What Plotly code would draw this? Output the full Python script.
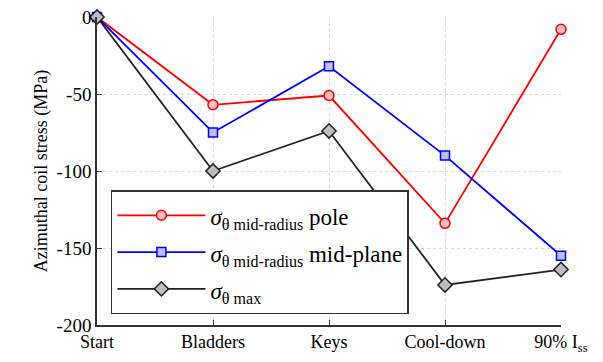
import plotly.graph_objects as go

stages = ["Start", "Bladders", "Keys", "Cool-down", "90% I<sub>ss</sub>"]
pole = [0, -57, -51, -134, -8]
midplane = [0, -75, -32, -90, -155]
smax = [0, -100, -74, -174, -164]
yticks = [-200, -150, -100, -50, 0]
yticklabels = ["-200", "-150", "-100", "-50", "0"]

names = ["<i>σ</i><sub>θ mid-radius</sub> pole",
         "<i>σ</i><sub>θ mid-radius</sub> mid-plane",
         "<i>σ</i><sub>θ max</sub>"]

fig = go.Figure()
x = list(range(len(stages)))
specs = [
    ("#ff0000", "rgba(255,190,190,1)", "circle", 10),
    ("#0000ff", "rgba(190,190,255,1)", "square", 9),
    ("#222222", "rgba(190,190,190,1)", "diamond", 11),
]
for vals, (lc, fc, sym, sz), nm in zip([pole, midplane, smax], specs, names):
    fig.add_trace(go.Scatter(
        x=x, y=vals, mode="lines+markers",
        name='<span style="font-size:23px">' + nm + '</span>',
        line=dict(color=lc, width=1.8),
        marker=dict(symbol=sym, size=sz, color=fc, line=dict(color=lc, width=1.5)),
        cliponaxis=False,
    ))

font = "Liberation Serif"
fig.update_layout(
    width=595, height=354,
    margin=dict(l=89, r=42, t=9, b=37, autoexpand=False),
    paper_bgcolor="white", plot_bgcolor="white",
    font=dict(family=font, size=16, color="black"),
    showlegend=True,
    legend=dict(
        x=0.03, y=0.437, xanchor="left", yanchor="top",
        bgcolor="white", bordercolor="#333333", borderwidth=1.5,
        font=dict(family=font, size=26, color="black"),
        itemwidth=88, tracegroupgap=0,
    ),
    xaxis=dict(
        range=[0, 4], tickmode="array", tickvals=x, ticktext=stages,
        showline=True, linecolor="#333333", linewidth=1.5,
        ticks="inside", ticklen=5, tickcolor="#333333",
        showgrid=True, gridcolor="#d8d8d8", griddash="dot", gridwidth=1,
        zeroline=False, tickfont=dict(family=font, size=18), automargin=False,
        ticklabeloverflow="allow",
    ),
    yaxis=dict(
        range=[-200, 0], tickmode="array", tickvals=yticks, ticktext=yticklabels,
        showline=True, linecolor="#333333", linewidth=1.5,
        ticks="inside", ticklen=5, tickcolor="#333333",
        showgrid=True, gridcolor="#d8d8d8", griddash="dot", gridwidth=1,
        zeroline=False, tickfont=dict(family=font, size=19), automargin=False,
        ticklabeloverflow="allow",
        title=dict(text="Azimuthal coil stress (MPa)", font=dict(family=font, size=18), standoff=4),
    ),
)
fig.write_html("out.html")
